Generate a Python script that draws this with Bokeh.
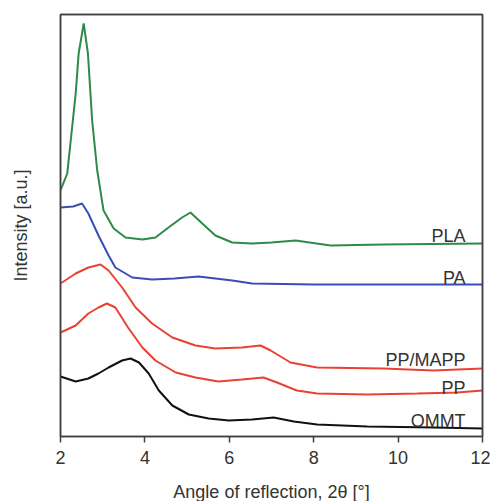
from bokeh.plotting import figure
from bokeh.models import Label, FixedTicker, Range1d, LinearAxis
from bokeh.embed import file_html
from bokeh.resources import INLINE

# ---- data (2theta in degrees, intensity in arbitrary offset units) ----
pla_x = [2.0, 2.16, 2.36, 2.43, 2.55, 2.65, 2.75, 2.87, 3.02, 3.26, 3.54, 3.94, 4.25, 4.56, 4.88, 5.08, 5.36, 5.67, 6.07, 6.54, 7.0, 7.57, 8.4, 9.66, 12.0]
pla_y = [246, 263, 343, 383, 413, 383, 316, 266, 226, 208, 199, 197, 199, 209, 219, 224, 213, 201, 194, 193, 194, 196, 191, 192, 193]

pa_x = [2.0, 2.3, 2.51, 2.66, 2.9, 3.14, 3.3, 3.7, 4.17, 4.7, 5.27, 6.07, 6.54, 8.0, 10.0, 12.0]
pa_y = [229, 230, 233, 223, 201, 181, 169, 159, 157, 158, 160, 156, 153, 152, 152, 152]

ppmapp_x = [2.0, 2.36, 2.66, 2.95, 3.14, 3.46, 3.78, 4.17, 4.65, 5.2, 5.67, 6.3, 6.74, 6.98, 7.45, 8.08, 9.65, 10.84, 12.0]
ppmapp_y = [153, 163, 169, 172, 166, 149, 129, 113, 99, 91, 88, 89, 91, 86, 74, 69, 68, 66, 68]

pp_x = [2.0, 2.36, 2.66, 2.9, 3.1, 3.3, 3.6, 3.94, 4.25, 4.73, 5.2, 5.74, 6.3, 6.81, 7.13, 7.6, 8.08, 9.27, 10.45, 11.4, 12.0]
pp_y = [104, 111, 123, 129, 133, 129, 109, 89, 76, 64, 59, 55, 57, 59, 54, 46, 43, 42, 43, 44, 46]

ommt_x = [2.0, 2.36, 2.66, 2.9, 3.14, 3.46, 3.66, 3.86, 4.09, 4.33, 4.65, 5.04, 5.51, 5.99, 6.54, 7.05, 7.53, 8.08, 9.27, 10.85, 12.0]
ommt_y = [60, 55, 58, 63, 69, 76, 78, 74, 63, 46, 31, 22, 18, 16, 17, 19, 15, 12, 10, 9, 8]

series_names = ["PLA", "PA", "PP/MAPP", "PP", "OMMT"]
x_ticks = [2, 4, 6, 8, 10, 12]

FONT = "Liberation Sans"
TXT = "#333333"
FRAME = "#404040"

p = figure(output_backend="svg", toolbar_location=None,
           frame_width=422, frame_height=422,
           x_range=Range1d(2, 12), y_range=Range1d(0, 422),
           min_border_left=60, min_border_top=14, min_border_right=8, min_border_bottom=65,
           background_fill_color="white", border_fill_color="white")

p.grid.visible = False
p.outline_line_color = FRAME
p.outline_line_width = 1.5

colors = ["#2e8a48", "#3a4db5", "#ea4232", "#ea4232", "#111111"]
xs = [pla_x, pa_x, ppmapp_x, pp_x, ommt_x]
ys = [pla_y, pa_y, ppmapp_y, pp_y, ommt_y]
for x, y, c in zip(xs, ys, colors):
    p.line(x, y, line_color=c, line_width=2)

# x axis
p.xaxis.ticker = FixedTicker(ticks=x_ticks)
p.xaxis.minor_tick_line_color = None
p.xaxis.major_tick_in = 0
p.xaxis.major_tick_out = 6
p.xaxis.major_tick_line_color = FRAME
p.xaxis.major_tick_line_width = 1.5
p.xaxis.axis_line_color = FRAME
p.xaxis.axis_line_width = 1.5
p.xaxis.major_label_standoff = 8
p.xaxis.major_label_text_font = FONT
p.xaxis.major_label_text_font_size = "18px"
p.xaxis.major_label_text_color = TXT
p.xaxis.axis_label = "Angle of reflection, 2θ [°]"
p.xaxis.axis_label_text_font = FONT
p.xaxis.axis_label_text_font_size = "18px"
p.xaxis.axis_label_text_font_style = "normal"
p.xaxis.axis_label_text_color = TXT
p.xaxis.axis_label_standoff = 15

# y axis
p.yaxis.ticker = FixedTicker(ticks=[])
p.yaxis.minor_tick_line_color = None
p.yaxis.major_tick_line_color = None
p.yaxis.major_label_text_font_size = "0px"
p.yaxis.axis_line_color = FRAME
p.yaxis.axis_line_width = 1.5
p.yaxis.axis_label = "Intensity [a.u.]"
p.yaxis.axis_label_text_font = FONT
p.yaxis.axis_label_text_font_size = "18px"
p.yaxis.axis_label_text_font_style = "normal"
p.yaxis.axis_label_text_color = TXT
p.yaxis.axis_label_standoff = 30

# plain frame lines on top and right
for side in ("above", "right"):
    ax = LinearAxis(ticker=FixedTicker(ticks=[]), major_label_text_font_size="0px",
                    major_tick_line_color=None, minor_tick_line_color=None,
                    axis_line_color=FRAME, axis_line_width=1.5)
    p.add_layout(ax, side)

label_pos = [(11.6, 201), (11.6, 159), (11.6, 77), (11.6, 49), (11.6, 16)]
for name, (lx, ly) in zip(series_names, label_pos):
    p.add_layout(Label(x=lx, y=ly, text=name, text_align="right", text_baseline="alphabetic",
                       text_font=FONT, text_font_size="18px", text_color=TXT))

open("out.html", "w").write(file_html(p, INLINE))
